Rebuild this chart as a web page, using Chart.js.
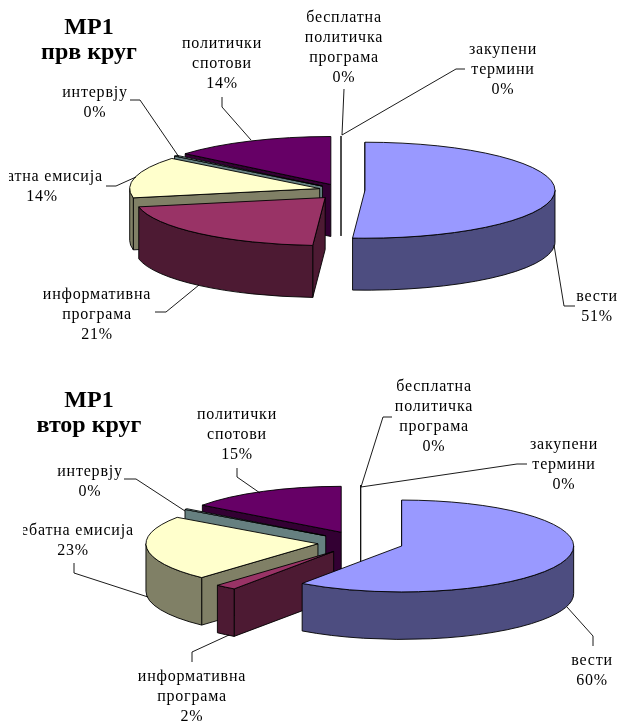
<!DOCTYPE html>
<html><head><meta charset="utf-8">
<style>html,body{margin:0;padding:0;background:#fff;overflow:hidden}
canvas{position:absolute;left:0}</style>
<script src="https://cdn.jsdelivr.net/npm/chart.js@4/dist/chart.umd.min.js"></script>
</head><body>
<canvas id="c1" width="618" height="360" style="top:0"></canvas>
<canvas id="c2" width="618" height="361" style="top:360px"></canvas>
<script>
const categories = [
  ['вести'],
  ['информативна','програма'],
  ['дебатна емисија'],
  ['интервју'],
  ['политички','спотови'],
  ['бесплатна','политичка','програма'],
  ['закупени','термини']
];
const valuesRound1 = [51.4, 21, 14, 0.3, 14, 0, 0];
const valuesRound2 = [60, 2, 23, 0.3, 15, 0, 0];
const titleRound1 = ['МР1','прв круг'];
const titleRound2 = ['МР1','втор круг'];

const topColors  = ['#9999FF','#993366','#FFFFCC','#CCFFFF','#660066','#FF8080','#0066CC'];
const sideColors = ['#4D4D80','#4D1A33','#808066','#668080','#330033','#804040','#003366'];
const FONT = '"Liberation Serif"';
const paintOrder = [4,3,5,6,2,1,0];

function pie3dPlugin(cfg){
  return {
    id:'pie3d',
    beforeDatasetDraw(chart,args){
      const ctx=chart.ctx, meta=args.meta, k=cfg.tilt, D=cfg.depth, ex=cfg.explode;
      ctx.save();
      ctx.lineWidth=0.9; ctx.strokeStyle='#000'; ctx.lineJoin='round';
      for(const i of paintOrder){
        const arc=meta.data[i];
        const s=arc.startAngle,e=arc.endAngle,R=arc.outerRadius,m=(s+e)/2;
        const n=(cfg.nudge&&cfg.nudge[i])||[0,0];
        const X=arc.x+Math.cos(m)*ex+n[0], Y=arc.y+Math.sin(m)*ex*k+n[1];
        if(e-s<1e-6){
          ctx.beginPath();ctx.moveTo(X,Y-R*k);ctx.lineTo(X,Y+D);ctx.stroke();
          continue;
        }
        const px=a=>X+Math.cos(a)*R, py=a=>Y+Math.sin(a)*R*k;
        ctx.fillStyle=sideColors[i];
        const wall=a=>{
          ctx.beginPath();ctx.moveTo(X,Y);ctx.lineTo(px(a),py(a));
          ctx.lineTo(px(a),py(a)+D);ctx.lineTo(X,Y+D);ctx.closePath();ctx.fill();ctx.stroke();
        };
        if(Math.sin(s)<0 || (Math.cos(s)<0 && Math.sin(s)>=0)) wall(s);
        if(Math.cos(e)>0 && Math.sin(e)>0) wall(e);
        const a1=Math.max(s,0),a2=Math.min(e,Math.PI);
        if(a2>a1){
          ctx.beginPath();
          ctx.ellipse(X,Y,R,R*k,0,a1,a2);
          ctx.lineTo(px(a2),py(a2)+D);
          ctx.ellipse(X,Y+D,R,R*k,0,a2,a1,true);
          ctx.closePath();ctx.fill();ctx.stroke();
        }
        ctx.save();
        ctx.translate(X,Y);ctx.scale(1,k);ctx.translate(-arc.x,-arc.y);
        arc.draw(ctx);
        ctx.restore();
        ctx.beginPath();ctx.moveTo(X,Y);ctx.lineTo(px(s),py(s));
        ctx.ellipse(X,Y,R,R*k,0,s,e);ctx.closePath();ctx.stroke();
      }
      ctx.restore();
      return false;
    },
    afterDraw(chart){
      const ctx=chart.ctx, ds=chart.data.datasets[0], top=cfg.canvasTop;
      const total=ds.data.reduce((a,b)=>a+b,0);
      ctx.save();
      ctx.textAlign='center';ctx.textBaseline='middle';
      ctx.strokeStyle='#000';ctx.lineWidth=0.9;
      cfg.leaders.forEach(l=>{
        ctx.beginPath();
        l.forEach((p,j)=>j?ctx.lineTo(p[0],p[1]-top):ctx.moveTo(p[0],p[1]-top));
        ctx.stroke();
      });
      ctx.fillStyle='#000';
      ctx.font='16px '+FONT;
      ctx.letterSpacing=cfg.spacing;
      chart.data.labels.forEach((lab,i)=>{
        const p=cfg.labels[i];
        const lines=lab.concat(Math.round(ds.data[i]/total*100)+'%');
        ctx.save();
        if(p.clip!==undefined){ctx.beginPath();ctx.rect(p.clip,0,618,400);ctx.clip();}
        lines.forEach((t,j)=>ctx.fillText(t,p.x,p.y-top+j*cfg.lineStep));
        ctx.restore();
      });
      ctx.font='bold 24px '+FONT;
      ctx.letterSpacing='0px';
      cfg.title.forEach((t,j)=>ctx.fillText(t,cfg.titleX,cfg.titleY-top+j*cfg.titleStep));
      ctx.restore();
    }
  };
}

function makeChart(id,values,cfg){
  return new Chart(document.getElementById(id),{
    type:'pie',
    data:{labels:categories,datasets:[{data:values,backgroundColor:topColors,borderWidth:0,clip:false}]},
    options:{
      responsive:false,animation:false,devicePixelRatio:1,radius:cfg.radius,rotation:0,
      events:[],
      layout:{padding:cfg.padding},
      plugins:{legend:{display:false},tooltip:{enabled:false},title:{display:false}}
    },
    plugins:[pie3dPlugin(cfg)]
  });
}

makeChart('c1',valuesRound1,{
  canvasTop:0,radius:190,tilt:0.2526,depth:52,explode:24,spacing:'0.8px',lineStep:20,
  padding:{left:64,top:20},nudge:{1:[0,3],2:[2,0]},
  title:titleRound1,titleX:89,titleY:28,titleStep:24.5,
  labels:[
    {x:597,y:297},{x:97,y:295},{x:42,y:177,clip:9},{x:95,y:93},{x:222,y:44},{x:344,y:18},{x:503,y:50}
  ],
  leaders:[
    [[554,245],[564,306],[575,306]],
    [[155,312],[166,312],[199,285]],
    [[106,186],[116,186],[136,177]],
    [[130,100],[140,100],[179,157]],
    [[222,97],[222,107],[251,140]],
    [[344,89],[342,135]],
    [[465,69],[456,69],[342,135]]
  ]
});
makeChart('c2',valuesRound2,{
  canvasTop:360,radius:172,tilt:0.267,depth:47.5,explode:43,spacing:'0.8px',lineStep:20,
  padding:{left:103.4,top:4},
  title:titleRound2,titleX:89,titleY:401,titleStep:25,
  labels:[
    {x:592,y:661},{x:192,y:677},{x:73,y:531,clip:23},{x:90,y:472},{x:237,y:415},{x:434,y:387},{x:564,y:445}
  ],
  leaders:[
    [[593,646],[593,636],[567,607]],
    [[192,662],[192,652],[229,635]],
    [[74,563],[74,573],[148,597]],
    [[124,479],[136,479],[185,511]],
    [[237,468],[237,477],[260,493]],
    [[392,417],[383,417],[361,487]],
    [[527,464],[517,464],[361,487]]
  ]
});
</script>
</body></html>
